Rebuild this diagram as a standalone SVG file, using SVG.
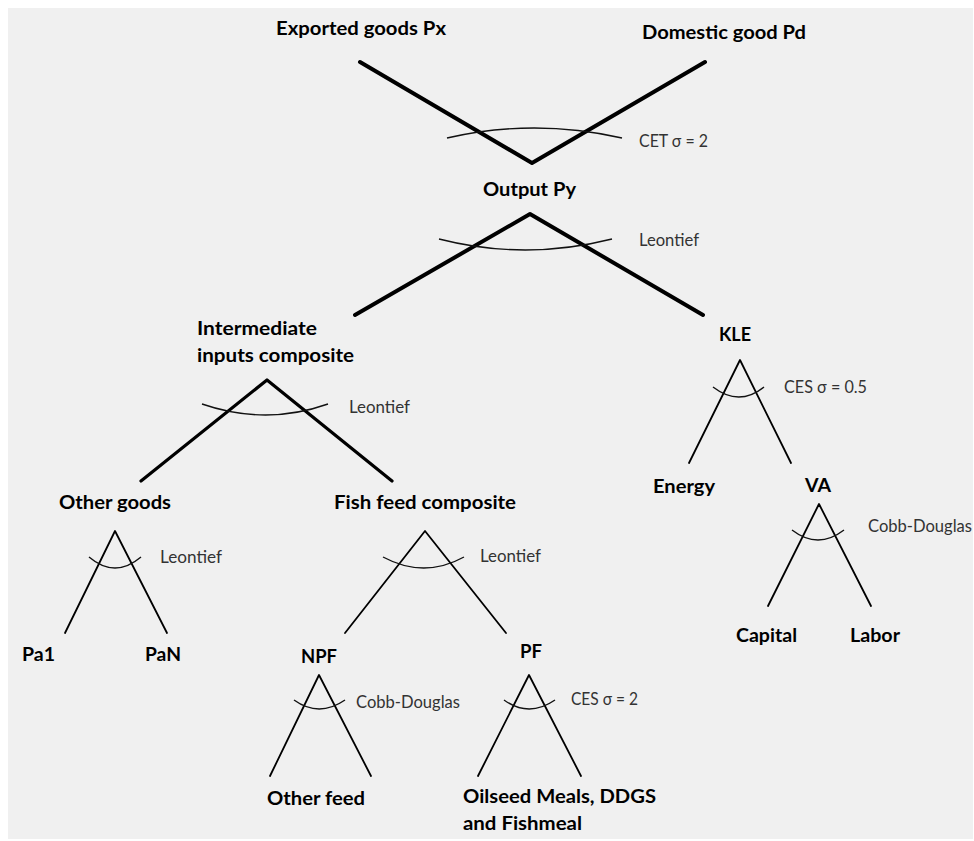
<svg xmlns="http://www.w3.org/2000/svg" width="974" height="841" viewBox="0 0 974 841">
<style>
.n{font-family:Lato,"Liberation Sans",sans-serif;font-weight:bold;font-size:19px;fill:#000}
.e{font-family:Lato,"Liberation Sans",sans-serif;font-size:16.5px;fill:#333}
.thick{stroke:#000;stroke-width:4;fill:none;stroke-linecap:round;stroke-linejoin:round}
.mid{stroke:#000;stroke-width:3.2;fill:none;stroke-linecap:round;stroke-linejoin:round}
.thin{stroke:#000;stroke-width:1.8;fill:none;stroke-linecap:round;stroke-linejoin:round}
.arc{stroke:#111;stroke-width:1.4;fill:none}
</style>
<rect x="0" y="0" width="974" height="841" fill="#fff"/>
<rect x="8" y="8" width="965" height="831" fill="#f0f0f0"/>

<g id="connectors">
  <polyline class="thick" points="360,62 532,163 705,62"/>
  <path class="arc" d="M447,138 Q534,118 622,138"/>
  <polyline class="thick" points="355,315 530,214 703,315"/>
  <path class="arc" d="M439,239 Q525,261 612,239"/>
  <polyline class="mid" points="141,481 267,380 392,481"/>
  <path class="arc" d="M202,404 Q266,426 328,404"/>
  <polyline class="thin" points="65,633 115,531 167,633"/>
  <path class="arc" d="M89,557 Q115,579 141,557"/>
  <polyline class="thin" points="345,633 425,531 506,633"/>
  <path class="arc" d="M383,557 Q424,579 464,557"/>
  <polyline class="thin" points="270,776 319,675 371,776"/>
  <path class="arc" d="M294,700 Q319,718 345,700"/>
  <polyline class="thin" points="478,776 529,675 581,776"/>
  <path class="arc" d="M504,700 Q529,718 555,700"/>
  <polyline class="thin" points="689,463 740,360 791,463"/>
  <path class="arc" d="M713,387 Q739,407 764,387"/>
  <polyline class="thin" points="768,606 819,504 871,606"/>
  <path class="arc" d="M792,530 Q818,550 844,530"/>
</g>

<g id="elasticities">
  <text class="e" x="639" y="147" textLength="69" lengthAdjust="spacingAndGlyphs">CET σ = 2</text>
  <text class="e" x="639" y="246" textLength="60" lengthAdjust="spacingAndGlyphs">Leontief</text>
  <text class="e" x="349" y="413" textLength="61" lengthAdjust="spacingAndGlyphs">Leontief</text>
  <text class="e" x="160" y="563" textLength="62" lengthAdjust="spacingAndGlyphs">Leontief</text>
  <text class="e" x="480" y="562" textLength="61" lengthAdjust="spacingAndGlyphs">Leontief</text>
  <text class="e" x="356" y="708" textLength="104" lengthAdjust="spacingAndGlyphs">Cobb-Douglas</text>
  <text class="e" x="571" y="705" textLength="67" lengthAdjust="spacingAndGlyphs">CES σ = 2</text>
  <text class="e" x="784" y="393" textLength="83" lengthAdjust="spacingAndGlyphs">CES σ = 0.5</text>
  <text class="e" x="868" y="532" textLength="104" lengthAdjust="spacingAndGlyphs">Cobb-Douglas</text>
</g>

<g id="node-exported"><text class="n" x="276" y="35" textLength="170" lengthAdjust="spacingAndGlyphs">Exported goods Px</text></g>
<g id="node-domestic"><text class="n" x="642" y="39" textLength="164" lengthAdjust="spacingAndGlyphs">Domestic good Pd</text></g>
<g id="node-output"><text class="n" x="483" y="196" textLength="93" lengthAdjust="spacingAndGlyphs">Output Py</text></g>
<g id="node-intermediate">
  <text class="n" x="197" y="335" textLength="120" lengthAdjust="spacingAndGlyphs">Intermediate</text>
  <text class="n" x="197" y="362" textLength="157" lengthAdjust="spacingAndGlyphs">inputs composite</text>
</g>
<g id="node-kle"><text class="n" x="719" y="341" textLength="32" lengthAdjust="spacingAndGlyphs">KLE</text></g>
<g id="node-other-goods"><text class="n" x="59" y="509" textLength="112" lengthAdjust="spacingAndGlyphs">Other goods</text></g>
<g id="node-fish-feed"><text class="n" x="334" y="509" textLength="182" lengthAdjust="spacingAndGlyphs">Fish feed composite</text></g>
<g id="node-pa1"><text class="n" x="22" y="661" textLength="33" lengthAdjust="spacingAndGlyphs">Pa1</text></g>
<g id="node-pan"><text class="n" x="145" y="661" textLength="36" lengthAdjust="spacingAndGlyphs">PaN</text></g>
<g id="node-npf"><text class="n" x="301" y="663" textLength="36" lengthAdjust="spacingAndGlyphs">NPF</text></g>
<g id="node-pf"><text class="n" x="520" y="658" textLength="22" lengthAdjust="spacingAndGlyphs">PF</text></g>
<g id="node-other-feed"><text class="n" x="267" y="805" textLength="98" lengthAdjust="spacingAndGlyphs">Other feed</text></g>
<g id="node-oilseed">
  <text class="n" x="463" y="803" textLength="193" lengthAdjust="spacingAndGlyphs">Oilseed Meals, DDGS</text>
  <text class="n" x="463" y="830" textLength="119" lengthAdjust="spacingAndGlyphs">and Fishmeal</text>
</g>
<g id="node-energy"><text class="n" x="653" y="493" textLength="62" lengthAdjust="spacingAndGlyphs">Energy</text></g>
<g id="node-va"><text class="n" x="805" y="492" textLength="26" lengthAdjust="spacingAndGlyphs">VA</text></g>
<g id="node-capital"><text class="n" x="736" y="642" textLength="61" lengthAdjust="spacingAndGlyphs">Capital</text></g>
<g id="node-labor"><text class="n" x="850" y="642" textLength="50" lengthAdjust="spacingAndGlyphs">Labor</text></g>
</svg>
